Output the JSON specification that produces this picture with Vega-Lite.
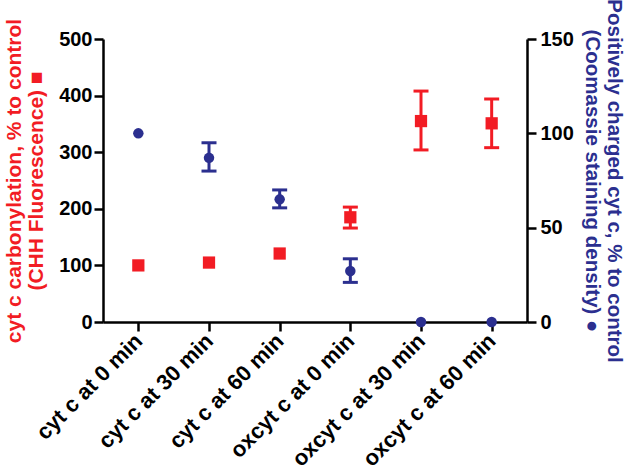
{
  "$schema": "https://vega.github.io/schema/vega-lite/v6.json",
  "width": 424,
  "height": 283,
  "autosize": {"type": "none"},
  "padding": {"left": 103, "top": 39, "right": 106, "bottom": 150},
  "background": "white",
  "config": {
    "view": {"stroke": null},
    "font": "Liberation Sans",
    "axis": {
      "grid": false,
      "domainColor": "black",
      "domainWidth": 2.5,
      "tickColor": "black",
      "tickWidth": 2.5,
      "tickSize": 9,
      "labelColor": "black",
      "labelFont": "Liberation Sans",
      "labelFontWeight": "bold",
      "labelFontSize": 20,
      "titleFont": "Liberation Sans",
      "titleFontWeight": "bold",
      "titleFontSize": 21,
      "titleLineHeight": 22
    }
  },
  "data": {
    "values": [
      {"cat": "cyt c at 0 min", "red": 100, "red_lo": null, "red_hi": null, "blue": 100, "blue_lo": null, "blue_hi": null},
      {"cat": "cyt c at 30 min", "red": 105, "red_lo": null, "red_hi": null, "blue": 87, "blue_lo": 80, "blue_hi": 95},
      {"cat": "cyt c at 60 min", "red": 121, "red_lo": null, "red_hi": null, "blue": 65, "blue_lo": 60.5, "blue_hi": 70},
      {"cat": "oxcyt c at 0 min", "red": 185, "red_lo": 166, "red_hi": 203, "blue": 27, "blue_lo": 21, "blue_hi": 33.5},
      {"cat": "oxcyt c at 30 min", "red": 355, "red_lo": 304, "red_hi": 408, "blue": 0, "blue_lo": null, "blue_hi": null},
      {"cat": "oxcyt c at 60 min", "red": 351, "red_lo": 308, "red_hi": 394, "blue": 0, "blue_lo": null, "blue_hi": null}
    ]
  },
  "encoding": {
    "x": {
      "field": "cat",
      "type": "nominal",
      "sort": ["cyt c at 0 min", "cyt c at 30 min", "cyt c at 60 min", "oxcyt c at 0 min", "oxcyt c at 30 min", "oxcyt c at 60 min"],
      "scale": {"type": "point", "padding": 0.5},
      "axis": {"title": null, "labelAngle": -45, "labelAlign": "right", "labelBaseline": "middle", "labelPadding": 6, "labelFontSize": 22}
    }
  },
  "layer": [
    {
      "layer": [
        {
          "transform": [{"filter": "datum.red_lo != null"}],
          "mark": {"type": "rule", "color": "#f21c24", "strokeWidth": 3, "opacity": 1},
          "encoding": {
            "y": {"field": "red_lo", "type": "quantitative", "scale": {"domain": [0, 500], "nice": false},
              "axis": {"orient": "left", "values": [0, 100, 200, 300, 400, 500], "titleColor": "#f21c24",
                "title": ["cyt c carbonylation, % to control", "(CHH Fluorescence) ■"], "titlePadding": 12, "labelPadding": 2}},
            "y2": {"field": "red_hi"}
          }
        },
        {
          "transform": [{"filter": "datum.red_lo != null"}],
          "mark": {"type": "tick", "color": "#f21c24", "thickness": 3, "size": 15, "orient": "horizontal", "opacity": 1},
          "encoding": {"y": {"field": "red_lo", "type": "quantitative"}}
        },
        {
          "transform": [{"filter": "datum.red_hi != null"}],
          "mark": {"type": "tick", "color": "#f21c24", "thickness": 3, "size": 15, "orient": "horizontal", "opacity": 1},
          "encoding": {"y": {"field": "red_hi", "type": "quantitative"}}
        },
        {
          "mark": {"type": "point", "shape": "square", "filled": true, "color": "#f21c24", "size": 150, "opacity": 1},
          "encoding": {"y": {"field": "red", "type": "quantitative"}}
        }
      ]
    },
    {
      "layer": [
        {
          "transform": [{"filter": "datum.blue_lo != null"}],
          "mark": {"type": "rule", "color": "#2b2f8f", "strokeWidth": 3, "opacity": 1},
          "encoding": {
            "y": {"field": "blue_lo", "type": "quantitative", "scale": {"domain": [0, 150], "nice": false},
              "axis": {"orient": "right", "values": [0, 50, 100, 150], "titleColor": "#2b2f8f",
                "title": ["Positively charged cyt c, % to control", "(Coomassie staining density) ●"], "titlePadding": 8, "labelPadding": 4, "titleFontSize": 20.5}},
            "y2": {"field": "blue_hi"}
          }
        },
        {
          "transform": [{"filter": "datum.blue_lo != null"}],
          "mark": {"type": "tick", "color": "#2b2f8f", "thickness": 3, "size": 15, "orient": "horizontal", "opacity": 1},
          "encoding": {"y": {"field": "blue_lo", "type": "quantitative"}}
        },
        {
          "transform": [{"filter": "datum.blue_hi != null"}],
          "mark": {"type": "tick", "color": "#2b2f8f", "thickness": 3, "size": 15, "orient": "horizontal", "opacity": 1},
          "encoding": {"y": {"field": "blue_hi", "type": "quantitative"}}
        },
        {
          "mark": {"type": "point", "shape": "circle", "filled": true, "color": "#2b2f8f", "size": 110, "opacity": 1},
          "encoding": {"y": {"field": "blue", "type": "quantitative"}}
        }
      ]
    }
  ],
  "resolve": {"scale": {"y": "independent"}}
}
